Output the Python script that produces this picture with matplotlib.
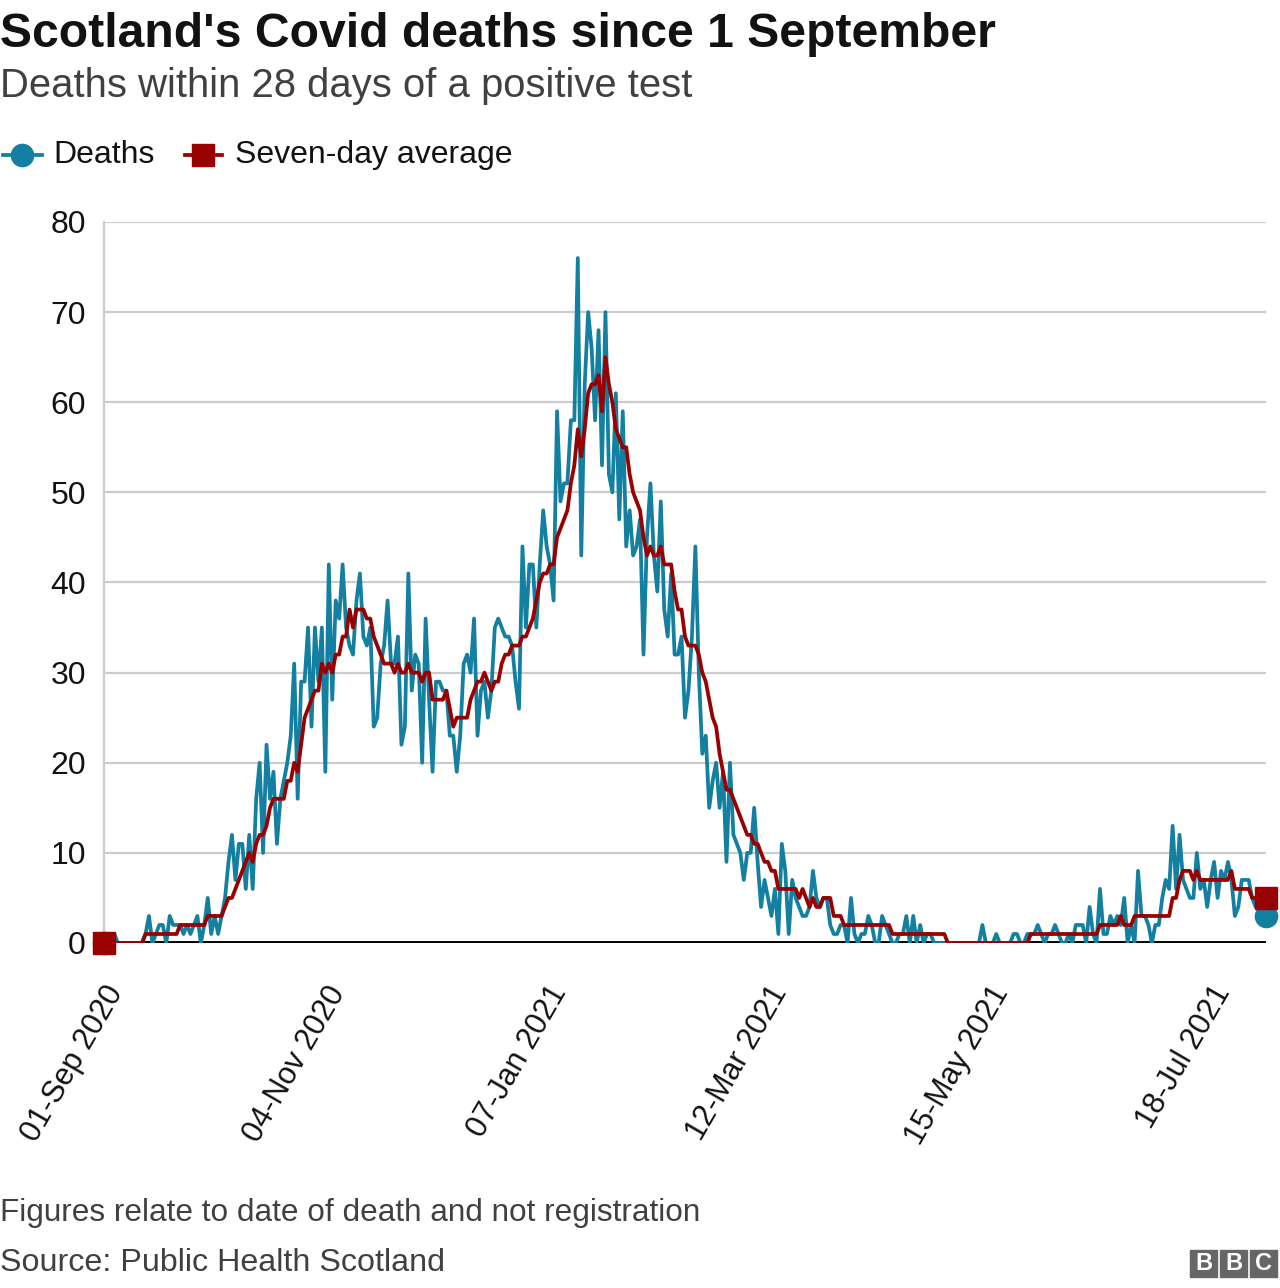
import numpy as np
import pandas as pd
import matplotlib
matplotlib.use("Agg")
import matplotlib.pyplot as plt
import matplotlib.dates as mdates
from matplotlib.lines import Line2D
from matplotlib.patches import Rectangle

plt.rcParams['font.family'] = ['Liberation Sans', 'DejaVu Sans']

# daily deaths from 01-Sep-2020
deaths = [
    0, 0, 0, 1, 0, 0, 0, 0, 0, 0,
    0, 0, 1, 3, 0, 1, 2, 2, 0, 3,
    2, 2, 2, 1, 2, 1, 2, 3, 0, 2,
    5, 1, 3, 1, 3, 5, 9, 12, 7, 11,
    11, 6, 12, 6, 16, 20, 10, 22, 16, 19,
    11, 16, 18, 20, 23, 31, 16, 29, 29, 35,
    24, 35, 29, 35, 19, 42, 27, 38, 36, 42,
    35, 33, 32, 38, 41, 34, 33, 35, 24, 25,
    31, 33, 38, 31, 31, 34, 22, 24, 41, 28,
    32, 31, 20, 36, 27, 19, 29, 29, 28, 28,
    23, 23, 19, 23, 31, 32, 30, 36, 23, 28,
    29, 25, 28, 35, 36, 35, 34, 34, 33, 29,
    26, 44, 35, 42, 42, 35, 42, 48, 44, 42,
    38, 59, 49, 51, 51, 58, 58, 76, 43, 62,
    70, 66, 58, 68, 53, 70, 52, 50, 61, 47,
    59, 44, 48, 43, 44, 47, 32, 45, 51, 43,
    39, 49, 37, 34, 41, 32, 32, 34, 25, 28,
    34, 44, 30, 21, 23, 15, 18, 20, 15, 19,
    9, 20, 12, 11, 10, 7, 10, 10, 15, 9,
    4, 7, 5, 3, 6, 1, 11, 8, 1, 7,
    5, 4, 3, 3, 4, 8, 5, 4, 5, 5,
    2, 1, 1, 2, 2, 0, 5, 1, 0, 1,
    1, 3, 2, 0, 0, 3, 2, 1, 0, 0,
    1, 1, 3, 0, 3, 0, 2, 0, 1, 1,
    0, 0, 0, 0, 0, 0, 0, 0, 0, 0,
    0, 0, 0, 0, 2, 0, 0, 0, 1, 0,
    0, 0, 0, 1, 1, 0, 0, 1, 1, 1,
    2, 1, 0, 1, 1, 2, 1, 0, 0, 1,
    0, 2, 2, 2, 0, 4, 1, 0, 6, 1,
    1, 3, 2, 3, 2, 5, 0, 2, 0, 8,
    3, 3, 2, 0, 2, 2, 5, 7, 6, 13,
    6, 12, 7, 6, 5, 5, 10, 6, 7, 4,
    7, 9, 5, 8, 7, 9, 7, 3, 4, 7,
    7, 7, 5, 4, 4, 4, 3,
]

# seven-day average
avg7 = [
    0, 0, 0, 0, 0, 0, 0, 0, 0, 0,
    0, 0, 1, 1, 1, 1, 1, 1, 1, 1,
    1, 1, 2, 2, 2, 2, 2, 2, 2, 2,
    3, 3, 3, 3, 3, 4, 5, 5, 6, 7,
    8, 9, 10, 9, 11, 12, 12, 13, 15, 16,
    16, 16, 16, 18, 18, 20, 19, 22, 25, 26,
    27, 28, 28, 31, 30, 31, 30, 32, 32, 34,
    34, 37, 35, 37, 37, 37, 36, 36, 34, 33,
    32, 31, 31, 31, 30, 31, 30, 30, 31, 30,
    30, 30, 29, 30, 30, 27, 27, 27, 27, 28,
    26, 24, 25, 25, 25, 25, 27, 28, 29, 29,
    30, 29, 28, 29, 29, 31, 32, 32, 33, 33,
    33, 34, 34, 35, 36, 38, 40, 41, 41, 42,
    42, 45, 46, 47, 48, 51, 53, 57, 54, 57,
    61, 62, 62, 63, 59, 65, 62, 60, 57, 56,
    55, 55, 52, 50, 49, 48, 45, 43, 44, 43,
    43, 44, 42, 42, 42, 39, 37, 37, 34, 33,
    33, 33, 32, 30, 29, 27, 25, 24, 21, 19,
    17, 17, 16, 15, 14, 13, 12, 12, 11, 11,
    10, 9, 9, 8, 8, 6, 6, 6, 6, 6,
    6, 5, 6, 5, 4, 5, 4, 4, 5, 5,
    5, 3, 3, 3, 2, 2, 2, 2, 2, 2,
    2, 2, 2, 2, 2, 2, 2, 2, 1, 1,
    1, 1, 1, 1, 1, 1, 1, 1, 1, 1,
    1, 1, 1, 1, 0, 0, 0, 0, 0, 0,
    0, 0, 0, 0, 0, 0, 0, 0, 0, 0,
    0, 0, 0, 0, 0, 0, 0, 0, 1, 1,
    1, 1, 1, 1, 1, 1, 1, 1, 1, 1,
    1, 1, 1, 1, 1, 1, 1, 1, 2, 2,
    2, 2, 2, 2, 3, 2, 2, 2, 3, 3,
    3, 3, 3, 3, 3, 3, 3, 3, 3, 5,
    5, 7, 8, 8, 8, 7, 8, 7, 7, 7,
    7, 7, 7, 7, 7, 7, 8, 6, 6, 6,
    6, 6, 5, 5, 5, 5, 5,
]

dates = pd.date_range("2020-09-01", periods=len(deaths), freq="D")
tick_dates = pd.to_datetime(["2020-09-01", "2020-11-04", "2021-01-07",
                             "2021-03-12", "2021-05-15", "2021-07-18"])

BLUE = "#1380a1"
RED = "#990000"
GRID = "#cccccc"
TEXT = "#121212"

fig = plt.figure(figsize=(12.8, 12.88), dpi=100)
ax = fig.add_axes([104/1280, 1 - 943/1288, (1266-104)/1280, (943-222)/1288])

ax.plot(dates, deaths, color=BLUE, lw=2.7, zorder=3)
ax.plot(dates, avg7, color=RED, lw=2.7, zorder=4)
# end markers
ax.plot(dates[[0, -1]], [deaths[0], deaths[-1]], 'o', color=BLUE, ms=16,
        clip_on=False, zorder=5)
ax.plot(dates[[0, -1]], [avg7[0], avg7[-1]], 's', color=RED, ms=16,
        clip_on=False, zorder=6)

ax.set_xlim(dates[0], dates[-1])
ax.set_ylim(0, 80)
ax.set_yticks(range(0, 81, 10))
ax.grid(axis='y', color=GRID, lw=1.6)
ax.set_axisbelow(True)
ax.axhline(0, color='black', lw=2.8, zorder=2)

for s in ['top', 'right', 'bottom']:
    ax.spines[s].set_visible(False)
ax.spines['left'].set_color(GRID)
ax.spines['left'].set_linewidth(1.6)

ax.set_xticks(tick_dates)
ax.xaxis.set_major_formatter(mdates.DateFormatter('%d-%b %Y'))
ax.tick_params(axis='both', length=0, colors=TEXT)
ax.tick_params(axis='y', pad=13, labelsize=23)
ax.tick_params(axis='x', pad=27, labelsize=22)
plt.setp(ax.get_xticklabels(), rotation=60, ha='right', rotation_mode='anchor')

# titles
fig.text(0, 1 - 47/1288, "Scotland's Covid deaths since 1 September",
         fontsize=34.7, fontweight='bold', color=TEXT, va='baseline')
fig.text(0, 1 - 97/1288, "Deaths within 28 days of a positive test",
         fontsize=28.8, color='#404040', va='baseline')

# legend
ly = 1 - 155/1288
fig.add_artist(Line2D([3/1280, 42/1280], [ly, ly], color=BLUE, lw=2.7))
fig.add_artist(Line2D([22/1280], [ly], marker='o', color=BLUE, ms=16))
fig.text(53/1280, ly, "Deaths", fontsize=23, color=TEXT, va='center')
fig.add_artist(Line2D([185/1280, 222/1280], [ly, ly], color=RED, lw=2.7))
fig.add_artist(Line2D([203/1280], [ly], marker='s', color=RED, ms=16))
fig.text(235/1280, ly, "Seven-day average", fontsize=23, color=TEXT,
         va='center')

# footer
fig.text(0, 1 - 1221/1288, "Figures relate to date of death and not registration",
         fontsize=22.7, color='#404040', va='baseline')
fig.text(0, 1 - 1271/1288, "Source: Public Health Scotland",
         fontsize=23.2, color='#404040', va='baseline')

# BBC logo
for i, letter in enumerate("BBC"):
    x0 = 1190 + i * 30
    fig.add_artist(Rectangle((x0/1280, 1 - 1277/1288), 27/1280, 27/1288,
                             transform=fig.transFigure, color='#666666'))
    fig.text((x0 + 13.5)/1280, 1 - 1263.5/1288, letter, fontsize=17,
             fontweight='bold', color='white', ha='center', va='center')

fig.savefig("out.png", dpi=100)
